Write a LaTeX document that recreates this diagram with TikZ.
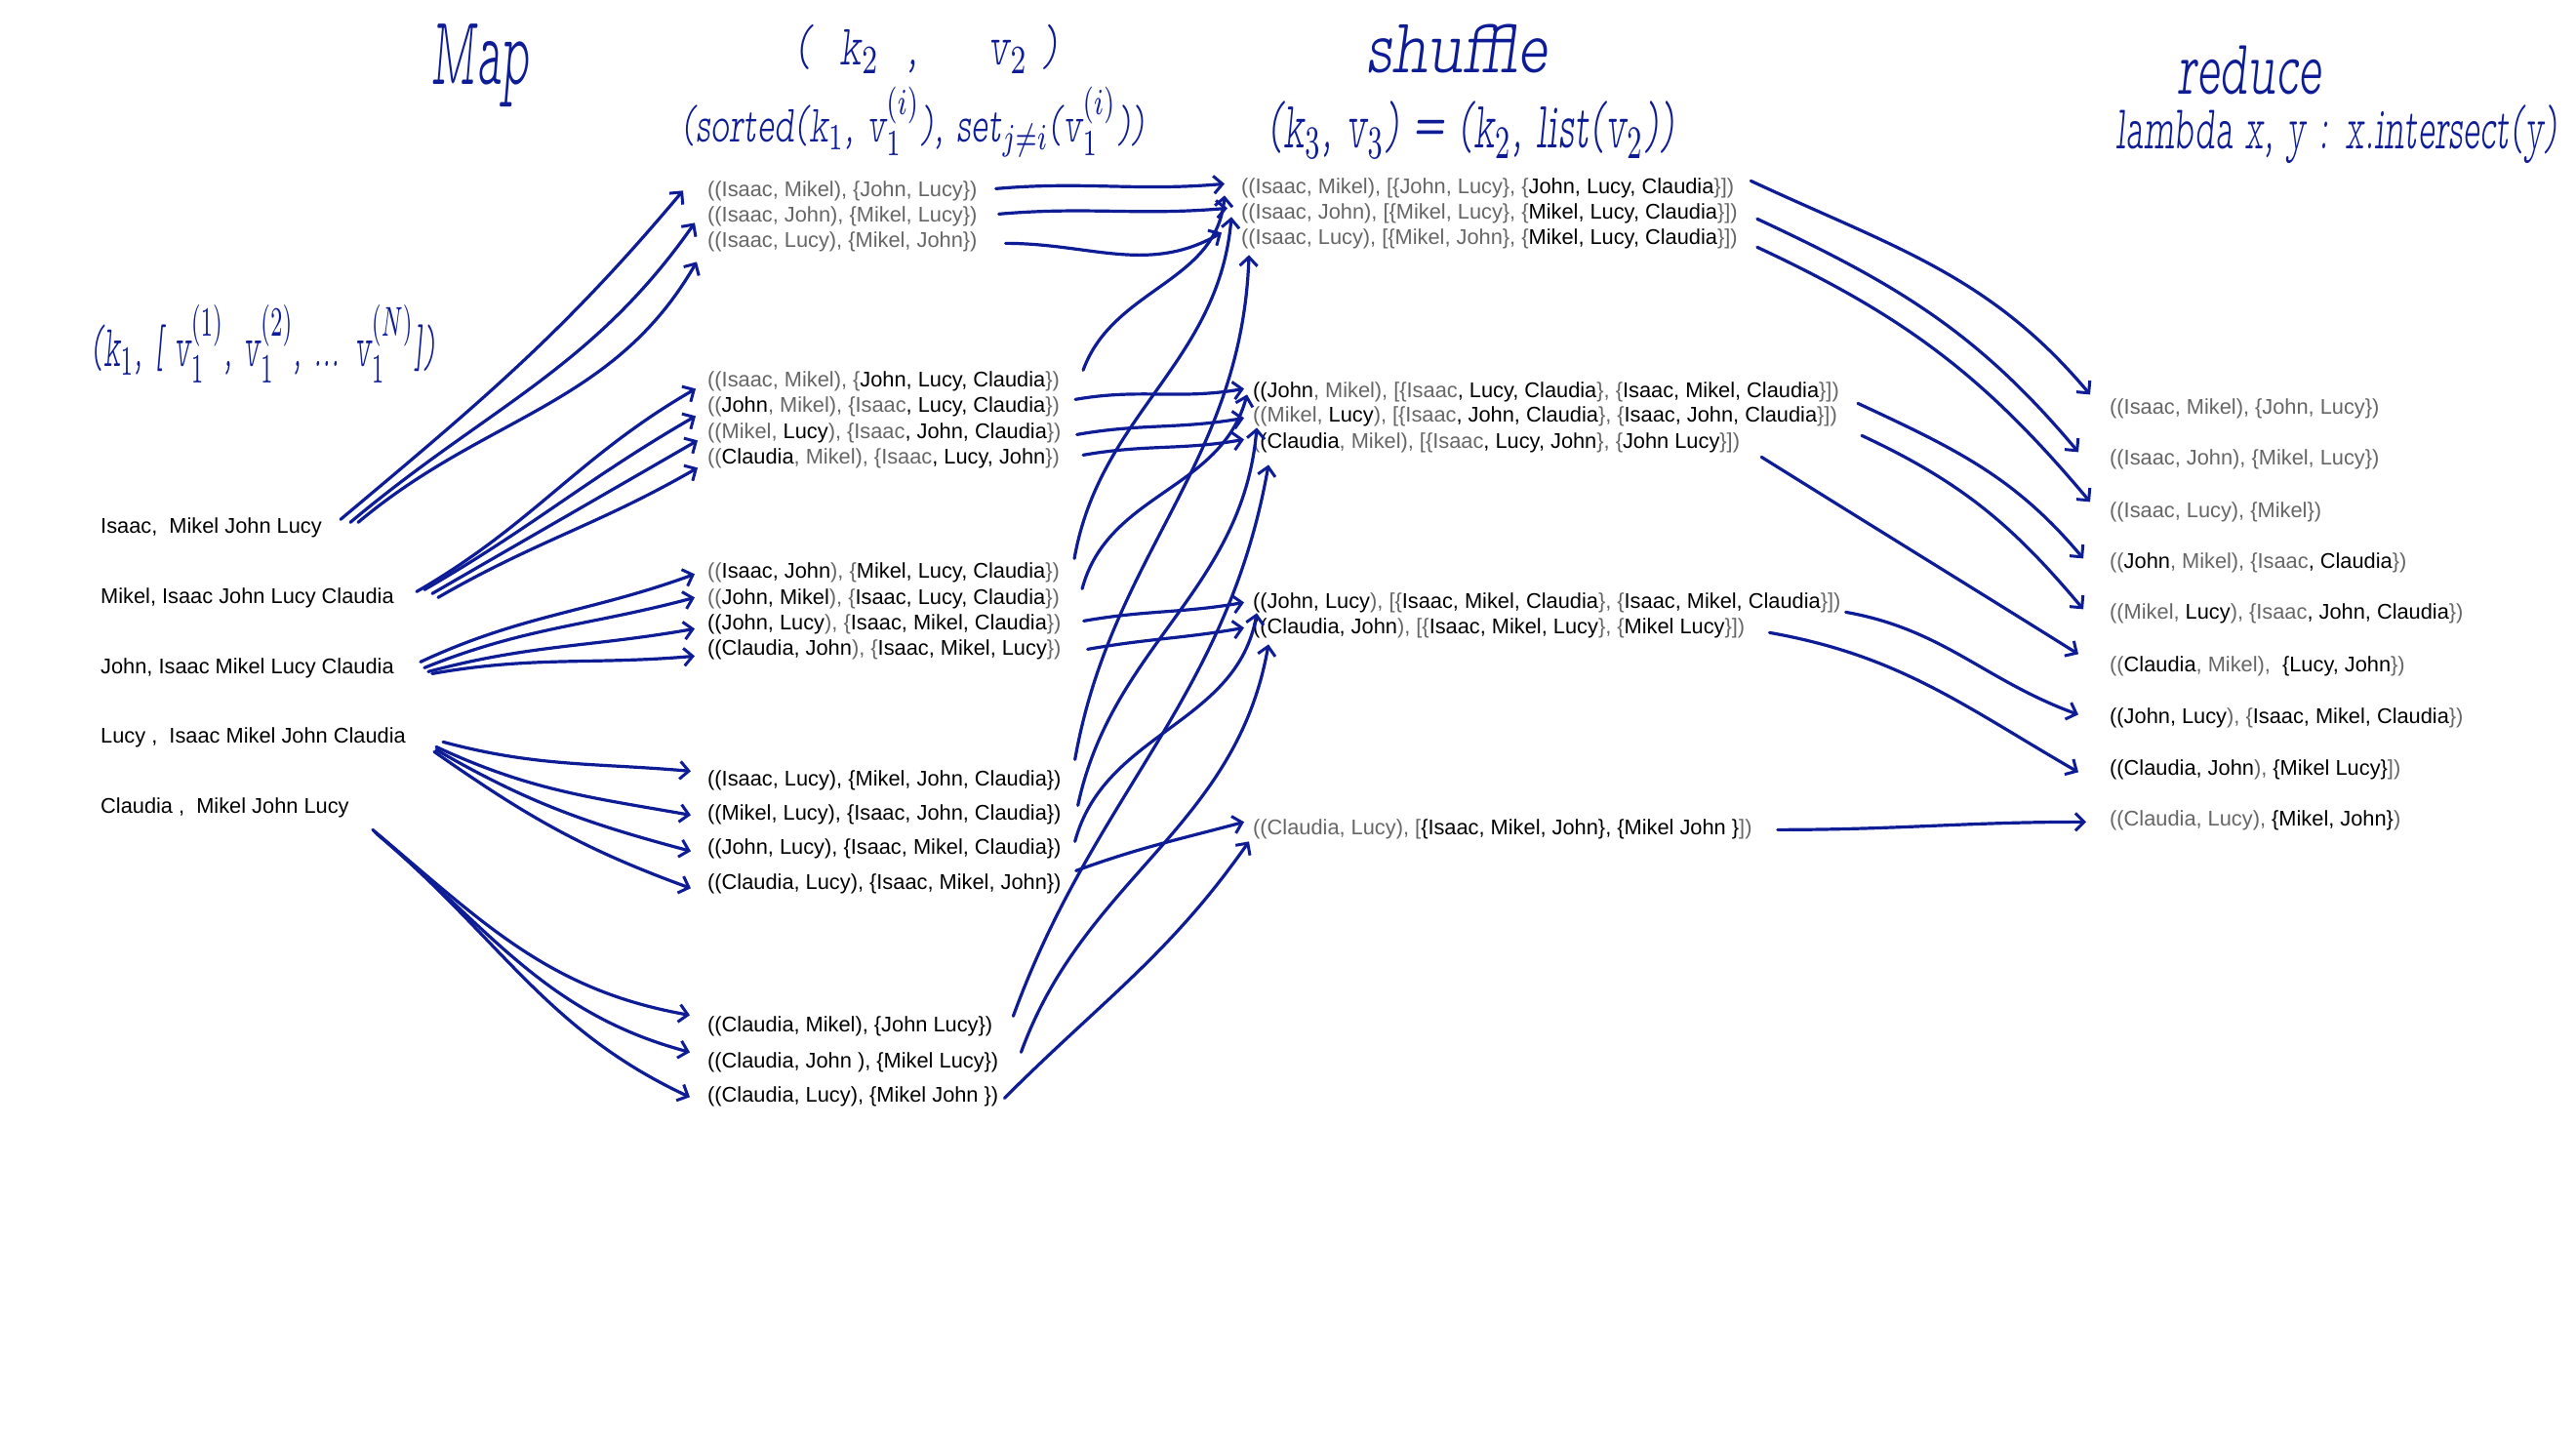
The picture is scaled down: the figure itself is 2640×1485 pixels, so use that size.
\documentclass[tikz,border=0pt]{standalone}
\usepackage{fontspec}
\usepackage{graphicx}
\setmainfont{Liberation Sans}
\newfontfamily\handfont{lmmonoproplt10-oblique.otf}
\usetikzlibrary{arrows.meta}
\definecolor{ink}{RGB}{14,28,150}
\definecolor{txtgray}{RGB}{102,102,102}
\newcommand\gy[1]{\textcolor{txtgray}{#1}}

\begin{document}
\begin{tikzpicture}[x=1pt,y=-1pt,
  lbl/.style={inner sep=0pt, anchor=base west, font=\fontsize{21.8}{26}\selectfont, text=black},
  hand/.style={inner sep=0pt, text=ink, font=\handfont},
  link/.style={draw=ink, line width=3.2pt, line cap=round, line join=round,
    -{Straight Barb[length=9pt,width=18pt,line width=3pt]}},
]
\useasboundingbox (0,0) rectangle (2640,1485);
\fill[white] (0,0) rectangle (2640,1485);

% ---------- handwritten headings ----------
\node[hand] (mapT) at (492,67) {\resizebox*{100pt}{85pt}{Map}};
\node[hand] (kvT) at (950,50) {\resizebox*{269pt}{50pt}{(\ \ k$_2$\ \ ,\ \ \ \ \ v$_2$\ )}};
\node[hand] (sortT) at (936,125) {\resizebox*{475pt}{72pt}{(sorted(k$_1$, v$_1^{(i)}$), set$_{j\neq i}$(v$_1^{(i)}$))}};
\node[hand] (shufT) at (1493,50) {\resizebox*{185pt}{50pt}{shuffle}};
\node[hand] (k3T) at (1508,133) {\resizebox*{417pt}{58pt}{(k$_3$, v$_3$) = (k$_2$, list(v$_2$))}};
\node[hand] (redT) at (2305,72) {\resizebox*{148pt}{50pt}{reduce}};
\node[hand] (lamT) at (2395,138) {\resizebox*{453pt}{60pt}{lambda x, y : x.intersect(y)}};
\node[hand] (k1T) at (270,352) {\resizebox*{353pt}{80pt}{(k$_1$, [ v$_1^{(1)}$, v$_1^{(2)}$, ... v$_1^{(N)}$])}};

% ---------- input records ----------
\node[lbl] (in1) at (103,546) {Isaac,\ \ Mikel John Lucy};
\node[lbl] (in2) at (103,618) {Mikel, Isaac John Lucy Claudia};
\node[lbl] (in3) at (103,690) {John, Isaac Mikel Lucy Claudia};
\node[lbl] (in4) at (103,761) {Lucy ,\ \ Isaac Mikel John Claudia};
\node[lbl] (in5) at (103,833) {Claudia ,\ \ Mikel John Lucy};

% ---------- map output ----------
\node[lbl] (a1) at (725,201) {\gy{((Isaac, Mikel), \{John, Lucy\})}};
\node[lbl] (a2) at (725,227) {\gy{((Isaac, John), \{Mikel, Lucy\})}};
\node[lbl] (a3) at (725,253) {\gy{((Isaac, Lucy), \{Mikel, John\})}};

\node[lbl] (b1) at (725,396) {\gy{((Isaac, Mikel), \{}John, Lucy, Claudia\gy{\})}};
\node[lbl] (b2) at (725,422) {\gy{((}John\gy{, Mikel), \{Isaac}, Lucy, Claudia\gy{\})}};
\node[lbl] (b3) at (725,449) {\gy{((Mikel, }Lucy\gy{), \{Isaac}, John, Claudia\gy{\})}};
\node[lbl] (b4) at (725,475) {\gy{((}Claudia\gy{, Mikel), \{Isaac}, Lucy, John\gy{\})}};

\node[lbl] (c1) at (725,592) {\gy{((}Isaac, John\gy{), \{}Mikel, Lucy, Claudia\gy{\})}};
\node[lbl] (c2) at (725,619) {\gy{((}John, Mikel\gy{), \{}Isaac, Lucy, Claudia\gy{\})}};
\node[lbl] (c3) at (725,645) {((John, Lucy\gy{), \{}Isaac, Mikel, Claudia\gy{\})}};
\node[lbl] (c4) at (725,671) {((Claudia, John\gy{), \{}Isaac, Mikel, Lucy\gy{\})}};

\node[lbl] (d1) at (725,805) {((Isaac, Lucy), \{Mikel, John, Claudia\})};
\node[lbl] (d2) at (725,840) {((Mikel, Lucy), \{Isaac, John, Claudia\})};
\node[lbl] (d3) at (725,875) {((John, Lucy), \{Isaac, Mikel, Claudia\})};
\node[lbl] (d4) at (725,911) {((Claudia, Lucy), \{Isaac, Mikel, John\})};

\node[lbl] (e1) at (725,1057) {((Claudia, Mikel), \{John Lucy\})};
\node[lbl] (e2) at (725,1094) {((Claudia, John ), \{Mikel Lucy\})};
\node[lbl] (e3) at (725,1129) {((Claudia, Lucy), \{Mikel John \})};

% ---------- shuffle output ----------
\node[lbl] (s1) at (1272,198) {\gy{((Isaac, Mikel), [\{John, Lucy\}, \{}John, Lucy, Claudia\gy{\}])}};
\node[lbl] (s2) at (1272,224) {\gy{((Isaac, John), [\{Mikel, Lucy\}, \{}Mikel, Lucy, Claudia\gy{\}])}};
\node[lbl] (s3) at (1272,250) {\gy{((Isaac, Lucy), [\{Mikel, John\}, \{}Mikel, Lucy, Claudia\gy{\}])}};

\node[lbl] (t1) at (1284,407) {((John\gy{, Mikel), [\{Isaac}, Lucy, Claudia\gy{\}, \{}Isaac, Mikel, Claudia\gy{\}])}};
\node[lbl] (t2) at (1284,432) {\gy{((Mikel, }Lucy\gy{), [\{Isaac}, John, Claudia\gy{\}, \{}Isaac, John, Claudia\gy{\}])}};
\node[lbl] (t3) at (1284,459) {\gy{(}(Claudia\gy{, Mikel), [\{Isaac}, Lucy, John\gy{\}, \{}John Lucy\gy{\}])}};

\node[lbl] (u1) at (1284,623) {((John, Lucy\gy{), [\{}Isaac, Mikel, Claudia\gy{\}, \{}Isaac, Mikel, Claudia\gy{\}])}};
\node[lbl] (u2) at (1284,649) {((Claudia, John\gy{), [\{}Isaac, Mikel, Lucy\gy{\}, \{}Mikel Lucy\gy{\}])}};

\node[lbl] (v1) at (1284,855) {\gy{((Claudia, Lucy), [}\{Isaac, Mikel, John\}, \{Mikel John \}\gy{])}};

% ---------- reduce output ----------
\node[lbl] (r1) at (2162,424) {\gy{((Isaac, Mikel), \{John, Lucy\})}};
\node[lbl] (r2) at (2162,476) {\gy{((Isaac, John), \{Mikel, Lucy\})}};
\node[lbl] (r3) at (2162,530) {\gy{((Isaac, Lucy), \{Mikel\})}};
\node[lbl] (r4) at (2162,582) {\gy{((}John\gy{, Mikel), \{Isaac}, Claudia\gy{\})}};
\node[lbl] (r5) at (2162,634) {\gy{((Mikel, }Lucy\gy{), \{Isaac}, John, Claudia\gy{\})}};
\node[lbl] (r6) at (2162,688) {\gy{((}Claudia\gy{, Mikel),\ \ }\{Lucy, John\gy{\})}};
\node[lbl] (r7) at (2162,741) {((John, Lucy\gy{), \{}Isaac, Mikel, Claudia\gy{\})}};
\node[lbl] (r8) at (2162,794) {((Claudia, John\gy{), }\{Mikel Lucy\}\gy{])}};
\node[lbl] (r9) at (2162,846) {\gy{((Claudia, Lucy), }\{Mikel, John\}\gy{)}};

% ---------- map connectors ----------
\draw[link] ([shift={(19,-8)}]in1.east) to[out=40,in=-130] ([shift={(-25,0)}]a1.west);
\draw[link] ([shift={(29,-5)}]in1.east) to[out=40,in=-125] ([shift={(-13,7)}]a2.west);
\draw[link] ([shift={(37,-5)}]in1.east) to[out=40,in=-120] ([shift={(-11,21)}]a3.west);

\draw[link] ([shift={(23,-6)}]in2.east) to[out=30,in=-150] ([shift={(-12,8)}]b1.west);
\draw[link] ([shift={(31,-8)}]in2.east) to[out=30,in=-150] ([shift={(-12,10)}]b2.west);
\draw[link] ([shift={(39,-4)}]in2.east) to[out=30,in=-150] ([shift={(-10,8)}]b3.west);
\draw[link] ([shift={(45,0)}]in2.east) to[out=30,in=-150] ([shift={(-10,10)}]b4.west);

\draw[link] ([shift={(27,-6)}]in3.east) to[out=25,in=-160] ([shift={(-13,2)}]c1.west);
\draw[link] ([shift={(31,0)}]in3.east) to[out=22,in=-165] ([shift={(-13,-1)}]c2.west);
\draw[link] ([shift={(35,4)}]in3.east) to[out=15,in=-170] ([shift={(-13,5)}]c3.west);
\draw[link] ([shift={(39,6)}]in3.east) to[out=10,in=-175] ([shift={(-13,7)}]c4.west);

\draw[link] ([shift={(38,5)}]in4.east) to[out=-15,in=175] ([shift={(-17,-9)}]d1.west);
\draw[link] ([shift={(31,10)}]in4.east) to[out=-25,in=170] ([shift={(-17,1)}]d2.west);
\draw[link] ([shift={(31,13)}]in4.east) to[out=-30,in=165] ([shift={(-17,3)}]d3.west);
\draw[link] ([shift={(29,15)}]in4.east) to[out=-35,in=160] ([shift={(-17,5)}]d4.west);

\draw[link] ([shift={(24,23)}]in5.east) to[out=-40,in=170] ([shift={(-18,-11)}]e1.west);
\draw[link] ([shift={(26,25)}]in5.east) to[out=-40,in=165] ([shift={(-18,-10)}]e2.west);
\draw[link] ([shift={(28,27)}]in5.east) to[out=-40,in=155] ([shift={(-18,1)}]e3.west);

% ---------- shuffle connectors ----------
\draw[link] ([shift={(19,-2)}]a1.east) to[out=5,in=-175] ([shift={(-17,-4)}]s1.west);
\draw[link] ([shift={(22,-2)}]a2.east) to[out=5,in=-175] ([shift={(-14,-5)}]s2.west);
\draw[link] ([shift={(29,2)}]a3.east) to[out=0,in=-150] ([shift={(-20,-6)}]s3.west);
\draw[link] ([shift={(24,-11)}]b1.east) to[out=70,in=-95] ([shift={(-17,8)}]s1.west);
\draw[link] ([shift={(16,-7)}]b2.east) to[out=10,in=-170] ([shift={(-9,-3)}]t1.west);
\draw[link] ([shift={(16,2)}]b3.east) to[out=10,in=-170] ([shift={(-9,2)}]t2.west);
\draw[link] ([shift={(24,-3)}]b4.east) to[out=10,in=-170] ([shift={(-9,-3)}]t3.west);
\draw[link] ([shift={(15,-14)}]c1.east) to[out=80,in=-95] ([shift={(-10,4)}]s2.west);
\draw[link] ([shift={(23,-10)}]c2.east) to[out=75,in=-105] ([shift={(-6,3)}]t1.west);
\draw[link] ([shift={(23,-3)}]c3.east) to[out=10,in=-170] ([shift={(-9,0)}]u1.west);
\draw[link] ([shift={(27,0)}]c4.east) to[out=10,in=-170] ([shift={(-9,0)}]u2.west);
\draw[link] ([shift={(14,-21)}]d1.east) to[out=80,in=-92] ([shift={(8,17)}]s3.west);
\draw[link] ([shift={(17,-9)}]d2.east) to[out=78,in=-95] ([shift={(4,12)}]t2.west);
\draw[link] ([shift={(14,-7)}]d3.east) to[out=75,in=-100] ([shift={(4,11)}]u1.west);
\draw[link] ([shift={(15,-13)}]d4.east) to[out=20,in=-165] ([shift={(-9,-7)}]v1.west);
\draw[link] ([shift={(21,-10)}]e1.east) to[out=70,in=-100] ([shift={(16,23)}]t3.west);
\draw[link] ([shift={(23,-10)}]e2.east) to[out=70,in=-100] ([shift={(16,17)}]u2.west);
\draw[link] ([shift={(6,2)}]e3.east) to[out=45,in=-125] ([shift={(-4,13)}]v1.west);

% ---------- reduce connectors ----------
\draw[link] ([shift={(17,-7)}]s1.east) to[out=-25,in=130] ([shift={(-20,-14)}]r1.west);
\draw[link] ([shift={(20,6)}]s2.east) to[out=-25,in=130] ([shift={(-32,-7)}]r2.west);
\draw[link] ([shift={(20,9)}]s3.east) to[out=-25,in=130] ([shift={(-20,-10)}]r3.west);
\draw[link] ([shift={(19,12)}]t1.east) to[out=-25,in=130] ([shift={(-27,-4)}]r4.west);
\draw[link] ([shift={(25,20)}]t2.east) to[out=-25,in=130] ([shift={(-27,-4)}]r5.west);
\draw[link] ([shift={(22,15)}]t3.east) to[out=-32,in=148] ([shift={(-32,-12)}]r6.west);
\draw[link] ([shift={(5,10)}]u1.east) to[out=-10,in=160] ([shift={(-32,-3)}]r7.west);
\draw[link] ([shift={(25,5)}]u2.east) to[out=-10,in=150] ([shift={(-32,3)}]r8.west);
\draw[link] ([shift={(26,1)}]v1.east) to[out=0,in=180] ([shift={(-24,2)}]r9.west);
\end{tikzpicture}
\end{document}
